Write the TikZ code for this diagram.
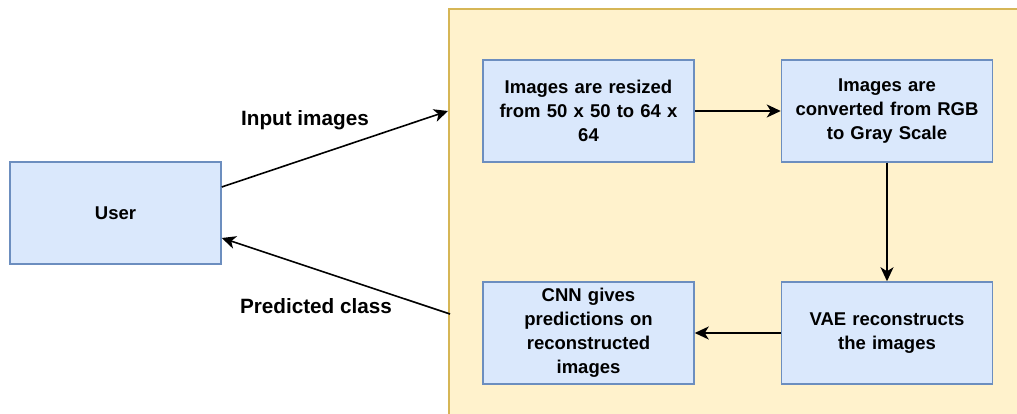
\documentclass[tikz,border=0pt]{standalone}
\usepackage{fontspec}
\setmainfont{Liberation Sans}
\usepackage{tikz}
\usetikzlibrary{arrows.meta}
\usetikzlibrary{calc}

\definecolor{framefill}{HTML}{FFF2CC}
\definecolor{frameline}{HTML}{D6B656}
\definecolor{boxfill}{HTML}{DAE8FC}
\definecolor{boxline}{HTML}{6C8EBF}

\begin{document}
\begin{tikzpicture}[x=1pt,y=1pt,
		box/.style={draw=boxline, fill=boxfill, line width=1.5pt, minimum width=211pt, minimum height=102pt, text width=205pt, align=center, inner sep=0pt, font=\fontsize{18.5}{24}\selectfont\bfseries},
		lbl/.style={font=\fontsize{20.7}{24}\selectfont\bfseries},
		link/.style={line width=1.6pt, -{Stealth[length=14pt,width=13pt,inset=4pt]}}]
		\useasboundingbox (0,0) rectangle (1017,414);
		\clip (0,0) rectangle (1017,414);
		\filldraw[fill=framefill, draw=frameline, line width=1.5pt] (449,-30) rectangle (1050,405);
		\node[box] (user) at (115.5,201) {User};
		\node[box] (resize) at (588.5,303) {Images are resized\\from 50 x 50 to 64 x\\64};
		\node[box] (gray) at (887,303) {Images are\\converted from RGB\\to Gray Scale};
		\node[box] (vae) at (887,81) {VAE reconstructs\\the images};
		\node[box] (cnn) at (588.5,81) {CNN gives\\predictions on\\reconstructed\\images};
		\coordinate (inend) at (448,303);
		\coordinate (outstart) at (450,100);
		\draw[link] ($(user.east)+(0,26)$) -- (inend);
		\draw[link] (outstart) -- ($(user.east)+(0,-25)$);
		\node[lbl] (inlbl) at (305,294) {Input images};
		\node[lbl] (outlbl) at (316,108) {Predicted class};
		\draw[link] (resize) -- (gray);
		\draw[link] (gray) -- (vae);
		\draw[link] (vae) -- (cnn);
	\end{tikzpicture}
\end{document}
